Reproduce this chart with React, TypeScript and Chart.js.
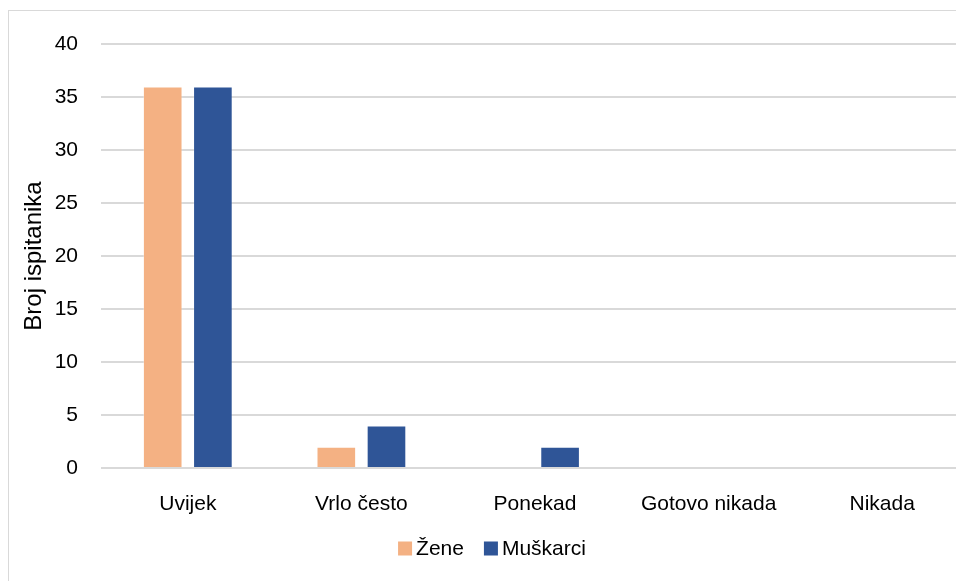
import React, { useEffect, useRef } from "react";
import { Chart, registerables } from "chart.js";

Chart.register(...registerables);

const categories = ["Uvijek", "Vrlo često", "Ponekad", "Gotovo nikada", "Nikada"];
const zeneValues = [36, 2, 0, 0, 0];
const muskarciValues = [36, 4, 2, 0, 0];
const seriesLabels = ["Žene", "Muškarci"];
const seriesColors = ["#F4B183", "#2F5597"];
const yAxisTitle = "Broj ispitanika";

const FONT = "'Liberation Sans', Arial, sans-serif";

const frameAndLegend = {
  id: "frameAndLegend",
  afterDraw(chart: any) {
    const ctx = chart.ctx;
    ctx.save();
    // outer frame
    ctx.strokeStyle = "#d9d9d9";
    ctx.lineWidth = 1;
    ctx.strokeRect(0.5, 2.5, chart.width - 1, chart.height + 20);
    // legend
    ctx.font = `21px ${FONT}`;
    ctx.textBaseline = "middle";
    ctx.textAlign = "left";
    const box = 14;
    const gapText = 4;
    const gapItems = 20;
    const items = chart.data.datasets.map((d: any) => ({
      label: d.label,
      color: d.backgroundColor,
      w: box + gapText + ctx.measureText(d.label).width,
    }));
    const total = items.reduce((s: number, it: any) => s + it.w, 0) + gapItems * (items.length - 1);
    let x = chart.width / 2 - total / 2;
    const cy = 540.5;
    items.forEach((it: any) => {
      ctx.fillStyle = it.color;
      ctx.fillRect(x, cy - box / 2, box, box);
      ctx.fillStyle = "#000000";
      ctx.fillText(it.label, x + box + gapText, cy + 1);
      x += it.w + gapItems;
    });
    ctx.restore();
  },
};

export default function App() {
  const ref = useRef<HTMLCanvasElement | null>(null);
  useEffect(() => {
    if (!ref.current) return;
    const chart = new Chart(ref.current, {
      type: "bar",
      data: {
        labels: categories,
        datasets: [
          {
            label: seriesLabels[0],
            data: zeneValues,
            backgroundColor: seriesColors[0],
            borderColor: "rgba(255,255,255,0.3)",
            borderWidth: 1,
            categoryPercentage: 0.578,
            barPercentage: 0.79,
          },
          {
            label: seriesLabels[1],
            data: muskarciValues,
            backgroundColor: seriesColors[1],
            borderColor: "rgba(255,255,255,0.2)",
            borderWidth: 1,
            categoryPercentage: 0.578,
            barPercentage: 0.79,
          },
        ],
      },
      options: {
        responsive: false,
        animation: false,
        maintainAspectRatio: false,
        layout: { padding: { left: 0, right: 7, top: 36, bottom: 80 } },
        plugins: {
          legend: { display: false },
          tooltip: { enabled: false },
        },
        scales: {
          x: {
            grid: { display: false },
            border: { display: false },
            ticks: {
              color: "#000000",
              font: { family: FONT, size: 21 },
              padding: 16,
              maxRotation: 0,
              autoSkip: false,
            },
            afterFit: (s: any) => {
              s.height = 60;
            },
          },
          y: {
            min: 0,
            max: 40,
            grid: { color: "#d9d9d9", lineWidth: 2, drawTicks: false },
            border: { display: false },
            ticks: {
              stepSize: 5,
              color: "#000000",
              font: { family: FONT, size: 21 },
              padding: 23,
            },
            title: {
              display: true,
              text: yAxisTitle,
              color: "#000000",
              font: { family: FONT, size: 24 },
              padding: { top: 12, bottom: 0 },
            },
            afterFit: (s: any) => {
              s.width = 93;
            },
          },
        },
      },
      plugins: [frameAndLegend],
    });
    return () => chart.destroy();
  }, []);

  return (
    <div
      style={{
        position: "fixed",
        left: 8,
        top: 8,
        width: 948,
        height: 573,
        overflow: "hidden",
        background: "#ffffff",
      }}
    >
      <canvas ref={ref} width={968} height={600} style={{ display: "block" }} />
    </div>
  );
}
